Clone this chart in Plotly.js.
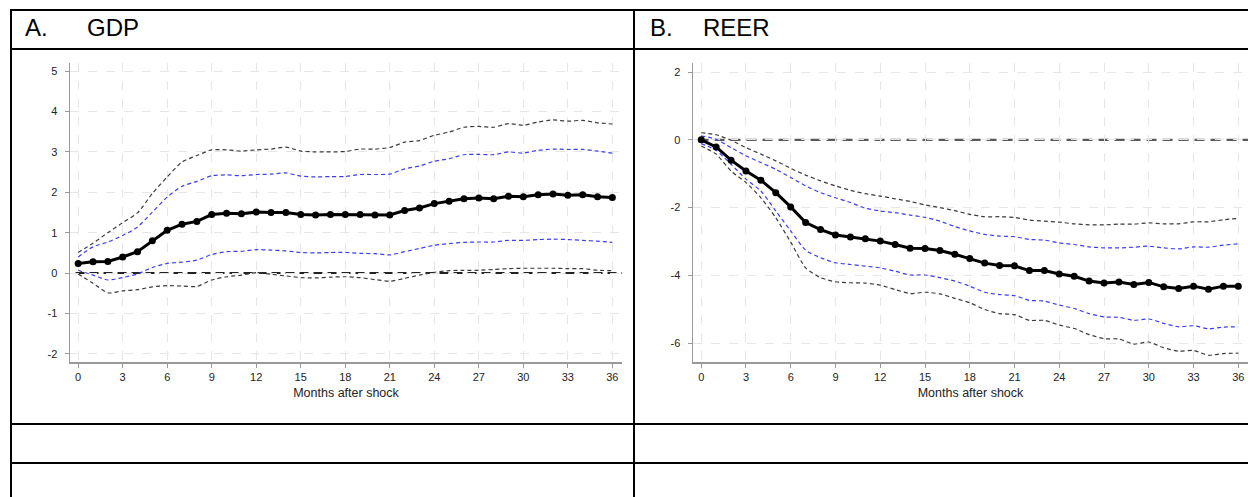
<!DOCTYPE html>
<html>
<head>
<meta charset="utf-8">
<script src="https://cdn.plot.ly/plotly-3.0.1.min.js"></script>
<style>html,body{margin:0;padding:0;background:#fff;}#chart{width:1248px;height:497px;}</style>
</head>
<body>
<div id="chart"></div>
<script>
const months = Array.from({length: 37}, (_, i) => i);
const xTicks = [0,3,6,9,12,15,18,21,24,27,30,33,36];

// Panel A: GDP
const gdpEst = [0.24,0.28,0.29,0.40,0.53,0.80,1.06,1.21,1.28,1.45,1.48,1.47,1.51,1.50,1.50,1.45,1.44,1.45,1.45,1.45,1.44,1.44,1.55,1.61,1.72,1.78,1.84,1.86,1.84,1.90,1.89,1.94,1.96,1.93,1.94,1.89,1.87];
const gdpHi90 = [0.51,0.74,1.00,1.25,1.49,1.97,2.38,2.75,2.91,3.05,3.05,3.02,3.05,3.07,3.12,3.02,3.00,3.00,3.01,3.07,3.07,3.11,3.24,3.28,3.41,3.49,3.61,3.63,3.61,3.70,3.66,3.74,3.79,3.76,3.78,3.72,3.69];
const gdpHi68 = [0.40,0.65,0.77,0.93,1.14,1.51,1.88,2.15,2.27,2.41,2.43,2.41,2.44,2.45,2.48,2.40,2.38,2.39,2.39,2.44,2.44,2.45,2.58,2.65,2.77,2.83,2.93,2.94,2.93,3.00,2.97,3.04,3.07,3.06,3.06,3.02,2.97];
const gdpLo68 = [0.07,-0.05,-0.17,-0.11,-0.02,0.14,0.24,0.27,0.32,0.46,0.53,0.54,0.58,0.57,0.55,0.51,0.50,0.51,0.51,0.49,0.48,0.45,0.53,0.61,0.69,0.73,0.76,0.77,0.77,0.81,0.81,0.83,0.84,0.83,0.81,0.79,0.76];
const gdpLo90 = [-0.02,-0.25,-0.49,-0.44,-0.41,-0.34,-0.31,-0.32,-0.33,-0.17,-0.09,-0.05,0.01,-0.03,-0.07,-0.11,-0.12,-0.10,-0.09,-0.11,-0.16,-0.20,-0.13,-0.05,0.02,0.06,0.07,0.07,0.09,0.11,0.12,0.12,0.12,0.11,0.11,0.07,0.06];

// Panel B: REER
const reerEst = [0,-0.21,-0.60,-0.92,-1.19,-1.56,-1.98,-2.44,-2.65,-2.81,-2.87,-2.92,-2.99,-3.09,-3.20,-3.21,-3.27,-3.38,-3.50,-3.64,-3.71,-3.72,-3.86,-3.86,-3.96,-4.03,-4.17,-4.23,-4.20,-4.27,-4.21,-4.34,-4.39,-4.32,-4.41,-4.32,-4.32];
const reerHi90 = [0.21,0.15,-0.01,-0.23,-0.42,-0.62,-0.84,-1.04,-1.21,-1.36,-1.49,-1.59,-1.66,-1.74,-1.82,-1.92,-2.00,-2.09,-2.20,-2.27,-2.27,-2.29,-2.37,-2.40,-2.43,-2.48,-2.51,-2.51,-2.49,-2.49,-2.45,-2.48,-2.48,-2.42,-2.42,-2.36,-2.32];
const reerHi68 = [0.12,0.02,-0.23,-0.47,-0.67,-0.87,-1.11,-1.36,-1.56,-1.71,-1.85,-2.02,-2.10,-2.15,-2.22,-2.29,-2.40,-2.56,-2.69,-2.79,-2.84,-2.86,-2.94,-2.96,-3.04,-3.09,-3.16,-3.19,-3.19,-3.17,-3.14,-3.19,-3.22,-3.16,-3.17,-3.11,-3.07];
const reerLo68 = [-0.11,-0.31,-0.72,-1.16,-1.51,-2.10,-2.69,-3.26,-3.48,-3.63,-3.68,-3.73,-3.78,-3.88,-3.99,-3.99,-4.07,-4.17,-4.32,-4.50,-4.57,-4.60,-4.74,-4.76,-4.88,-4.98,-5.13,-5.23,-5.24,-5.33,-5.29,-5.42,-5.52,-5.49,-5.58,-5.53,-5.52];
const reerLo90 = [-0.18,-0.42,-0.92,-1.26,-1.71,-2.30,-3.02,-3.78,-4.07,-4.19,-4.22,-4.23,-4.29,-4.42,-4.54,-4.50,-4.55,-4.68,-4.81,-5.01,-5.13,-5.16,-5.33,-5.33,-5.47,-5.57,-5.75,-5.87,-5.88,-6.03,-5.97,-6.14,-6.24,-6.22,-6.36,-6.31,-6.30];

const gdpTicks = [-2,-1,0,1,2,3,4,5];
const reerTicks = [-6,-4,-2,0,2];

const W = 1248, H = 497;
const px = v => v / W;
const py = v => 1 - v / H;

const FONT = 'Liberation Sans, Arial, sans-serif';
const BLACKBAND = '#3a3a3a';
const BLUEBAND = '#3c3cf0';

function bands(xa, ya, hi90, hi68, lo68, lo90, est) {
  const common = {x: months, xaxis: xa, yaxis: ya, mode: 'lines', hoverinfo: 'skip', showlegend: false};
  const ln = c => ({color: c, width: 1.2, dash: '4px,3px', shape: 'spline', smoothing: 0.6});
  return [
    Object.assign({}, common, {y: hi90, line: ln(BLACKBAND)}),
    Object.assign({}, common, {y: lo90, line: ln(BLACKBAND)}),
    Object.assign({}, common, {y: hi68, line: ln(BLUEBAND)}),
    Object.assign({}, common, {y: lo68, line: ln(BLUEBAND)}),
    {x: months, y: est, xaxis: xa, yaxis: ya, mode: 'lines+markers', showlegend: false,
     line: {color: '#000', width: 3}, marker: {color: '#000', size: 7}}
  ];
}

const data = [].concat(
  bands('x', 'y', gdpHi90, gdpHi68, gdpLo68, gdpLo90, gdpEst),
  bands('x2', 'y2', reerHi90, reerHi68, reerLo68, reerLo90, reerEst)
);

const gridStyle = {showgrid: true, gridcolor: '#e6e6e6', griddash: 'dash', gridwidth: 1};
function xaxisDef(domain, anchor) {
  return Object.assign({
    domain: domain, anchor: anchor, range: [-0.55, 36.65],
    tickmode: 'array', tickvals: xTicks, ticktext: xTicks.map(String),
    ticks: 'outside', ticklen: 4, tickcolor: '#999', tickwidth: 1,
    showline: true, linecolor: '#999', linewidth: 1.5, zeroline: false,
    tickfont: {family: FONT, size: 11, color: '#222'},
    title: {text: 'Months after shock', font: {family: FONT, size: 12.5, color: '#222'}, standoff: 6}
  }, gridStyle);
}
function yaxisDef(domain, anchor, range, ticks) {
  return Object.assign({
    domain: domain, anchor: anchor, range: range,
    tickmode: 'array', tickvals: ticks, ticktext: ticks.map(String),
    ticks: 'outside', ticklen: 4, tickcolor: '#999', tickwidth: 1,
    ticklabelstandoff: 5,
    showline: true, linecolor: '#999', linewidth: 1.5, zeroline: false,
    tickfont: {family: FONT, size: 11, color: '#222'}
  }, gridStyle);
}

const ydom = [py(362), py(63)];

const tableLine = {color: '#000', width: 2};
const shapes = [
  // zero lines
  {type: 'line', xref: 'x domain', yref: 'y', x0: 0.01, x1: 1, y0: 0, y1: 0, line: {color: '#222', width: 2, dash: '9px,5px'}, layer: 'below'},
  {type: 'line', xref: 'x2 domain', yref: 'y2', x0: 0.01, x1: 1, y0: 0, y1: 0, line: {color: '#5a5a5a', width: 2.4, dash: '10px,6px'}, layer: 'below'},
  // table borders
  {type: 'line', xref: 'paper', yref: 'paper', x0: px(10), x1: 1, y0: py(10), y1: py(10), line: tableLine},
  {type: 'line', xref: 'paper', yref: 'paper', x0: px(10), x1: 1, y0: py(49), y1: py(49), line: tableLine},
  {type: 'line', xref: 'paper', yref: 'paper', x0: px(10), x1: 1, y0: py(424), y1: py(424), line: tableLine},
  {type: 'line', xref: 'paper', yref: 'paper', x0: px(10), x1: 1, y0: py(463), y1: py(463), line: tableLine},
  {type: 'line', xref: 'paper', yref: 'paper', x0: px(11), x1: px(11), y0: py(10), y1: 0, line: tableLine},
  {type: 'line', xref: 'paper', yref: 'paper', x0: px(634), x1: px(634), y0: py(10), y1: 0, line: tableLine}
];

const annotations = [
  {xref: 'paper', yref: 'paper', x: px(23), y: py(27), xanchor: 'left', yanchor: 'middle', showarrow: false, text: 'A.', font: {family: FONT, size: 24, color: '#000'}},
  {xref: 'paper', yref: 'paper', x: px(85), y: py(27), xanchor: 'left', yanchor: 'middle', showarrow: false, text: 'GDP', font: {family: FONT, size: 24, color: '#000'}},
  {xref: 'paper', yref: 'paper', x: px(648), y: py(27), xanchor: 'left', yanchor: 'middle', showarrow: false, text: 'B.', font: {family: FONT, size: 24, color: '#000'}},
  {xref: 'paper', yref: 'paper', x: px(701), y: py(27), xanchor: 'left', yanchor: 'middle', showarrow: false, text: 'REER', font: {family: FONT, size: 24, color: '#000'}}
];

const layout = {
  width: W, height: H,
  margin: {l: 0, r: 0, t: 0, b: 0},
  paper_bgcolor: '#fff', plot_bgcolor: '#fff',
  font: {family: FONT},
  showlegend: false,
  xaxis: xaxisDef([px(70), px(622)], 'y'),
  yaxis: yaxisDef(ydom, 'x', [-2.2, 5.2], gdpTicks),
  xaxis2: xaxisDef([px(693), 1], 'y2'),
  yaxis2: yaxisDef(ydom, 'x2', [-6.56, 2.27], reerTicks),
  shapes: shapes,
  annotations: annotations
};

Plotly.newPlot('chart', data, layout, {staticPlot: true, displayModeBar: false});
</script>
</body>
</html>
